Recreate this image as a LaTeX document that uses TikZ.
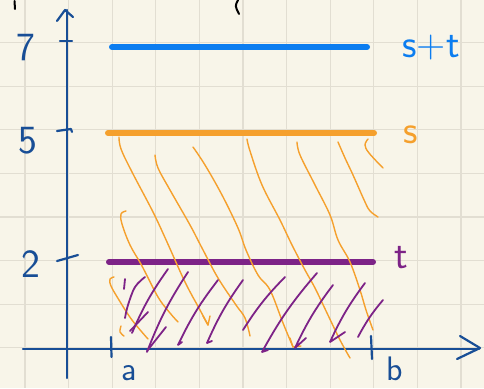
\documentclass[tikz,border=0pt]{standalone}
\definecolor{paper}{RGB}{248,245,233}
\definecolor{gridc}{RGB}{226,222,210}
\definecolor{axisc}{RGB}{24,78,150}
\definecolor{bluec}{RGB}{12,125,240}
\definecolor{orangec}{RGB}{245,160,45}
\definecolor{purplec}{RGB}{125,35,135}
\begin{document}
\begin{tikzpicture}[x=1pt,y=-1pt,
  gridline/.style={draw=gridc, line width=1.2pt},
  axis/.style={draw=axisc, line width=2.2pt, line cap=round, line join=round},
  bar/.style={line width=6pt, line cap=round},
  ohatch/.style={draw=orangec, line width=1.4pt, line cap=round, line join=round},
  phatch/.style={draw=purplec, line width=1.8pt, line cap=round, line join=round},
  lab/.style={font=\fontsize{40}{44}\selectfont\sffamily, inner sep=0pt, anchor=base},
  scrap/.style={draw=black, line width=2pt, line cap=round}]
\useasboundingbox (0,0) rectangle (484,388);
\fill[paper] (0,0) rectangle (484,388);
% grid
\foreach \i in {0,...,10} \draw[gridline] (25+43.6*\i,0) -- (25+43.6*\i,388);
\foreach \j in {0,...,7} \draw[gridline] (0,42.5+43.6*\j) -- (484,42.5+43.6*\j);
% scraps at top
\draw[scrap] (14.5,1) -- (15,9);
\draw[scrap] (238,0) .. controls (235,6) .. (239,14);
% axes
\coordinate (yb) at (67,378); \coordinate (yt) at (67,10);
\coordinate (xl) at (23,349); \coordinate (xr) at (479,349);
\draw[axis] (yb) -- (yt);
\draw[axis] (xl) -- (xr);
\coordinate (ya1) at (57,21); \coordinate (ya2) at (73,17);
\draw[axis] (ya1) -- (65,10) -- (ya2);
\coordinate (xa1) at (460,336); \coordinate (xa2) at (457,359);
\draw[axis] (xa1) -- (480,348) -- (xa2);
% y ticks
\draw[axis] (60,41) -- (72,41);
\draw[axis] (57,131) -- (71,129) -- (72,132);
\draw[axis] (57,261) -- (78,255);
% x ticks
\draw[axis] (111,337) -- (111.5,357);
\draw[axis] (371,336) -- (372,359);
% labels
\node[lab, text=axisc] (l7) at (26,60) {7};
\node[lab, text=axisc] (l5) at (28,153) {5};
\node[lab, text=axisc] (l2) at (31,277) {2};
\node[lab, text=axisc, font=\fontsize{34}{38}\selectfont\sffamily] (la) at (129,380) {a};
\node[lab, text=axisc, font=\fontsize{34}{38}\selectfont\sffamily] (lb) at (395,380) {b};
% bars
\coordinate (b1) at (112,47); \coordinate (b2) at (367,47);
\coordinate (o1) at (108,133); \coordinate (o2) at (374,133);
\coordinate (p1) at (109,262); \coordinate (p2) at (373,262);
\draw[bar, bluec] (b1) -- (b2);
\draw[bar, orangec] (o1) -- (o2);
\draw[bar, purplec] (p1) -- (p2);
\node[lab, text=bluec] (lst) at (431,57) {s+t};
\node[lab, text=orangec] (ls) at (411,143) {s};
\node[lab, text=purplec] (lt) at (401,268) {t};
% orange hatching
\draw[ohatch] plot[smooth, tension=0.6] coordinates {(126,211) (121,214) (122,224) (130,245) (142,266) (158,297) (170,313) (178,322)};
\draw[ohatch] plot[smooth, tension=0.6] coordinates {(119,137) (121,149) (132,172) (153,212) (167,242) (185,282) (200,310) (208,325)};
\draw[ohatch] (203,316) -- (208,325) -- (210,316);
\draw[ohatch] plot[smooth, tension=0.6] coordinates {(155,155) (158,168) (170,190) (190,225) (202,248) (218,278) (236,305) (245,318) (250,336)};
\draw[ohatch] plot[smooth, tension=0.6] coordinates {(193,147) (205,165) (222,195) (238,228) (246,250) (258,275) (270,290) (283,323) (293,347)};
\draw[ohatch] (290,338) -- (293,347) -- (301,346);
\draw[ohatch] plot[smooth, tension=0.6] coordinates {(247,139) (250,151) (262,185) (280,220) (292,245) (305,270) (315,288) (327,313) (340,340) (350,358)};
\draw[ohatch] plot[smooth, tension=0.6] coordinates {(297,142) (300,155) (315,185) (330,215) (338,240) (350,262) (360,290) (366,310) (373,330)};
\draw[ohatch] plot[smooth, tension=0.6] coordinates {(338,142) (345,158) (353,175) (365,202) (370,211) (378,217)};
\draw[ohatch] plot[smooth, tension=0.6] coordinates {(368,139) (365,145) (369,153) (383,168)};
\draw[ohatch] plot[smooth, tension=0.6] coordinates {(114,277) (110,279) (111,286) (119,300) (132,320) (148,339)};
\draw[ohatch] plot[smooth, tension=0.6] coordinates {(121,326) (120,332) (124,336)};
% purple hatching
\draw[phatch] plot[smooth, tension=0.6] coordinates {(145,277) (135,287) (128,305) (125,318)};
\draw[phatch] (125,279) -- (124,289);
\draw[phatch] (132,333) to[bend left=6] (168,269);
\draw[phatch] (130,331) -- (148,312);
\draw[phatch] (147,352) to[bend left=6] (188,272);
\draw[phatch] (147,351) -- (166,327);
\draw[phatch] (182,342) -- (178,345) to[bend left=6] (218,280);
\draw[phatch] (212,341) -- (207,343) to[bend left=6] (243,280);
\draw[phatch] (243,330) to[bend left=6] (285,277);
\draw[phatch] (268,350) -- (262,352) to[bend left=6] (317,273);
\draw[phatch] (306,338) -- (295,348) to[bend left=6] (333,285);
\draw[phatch] (345,332) -- (330,342) to[bend left=6] (365,283);
\draw[phatch] (358,337) to[bend left=6] (383,300);
\end{tikzpicture}
\end{document}
